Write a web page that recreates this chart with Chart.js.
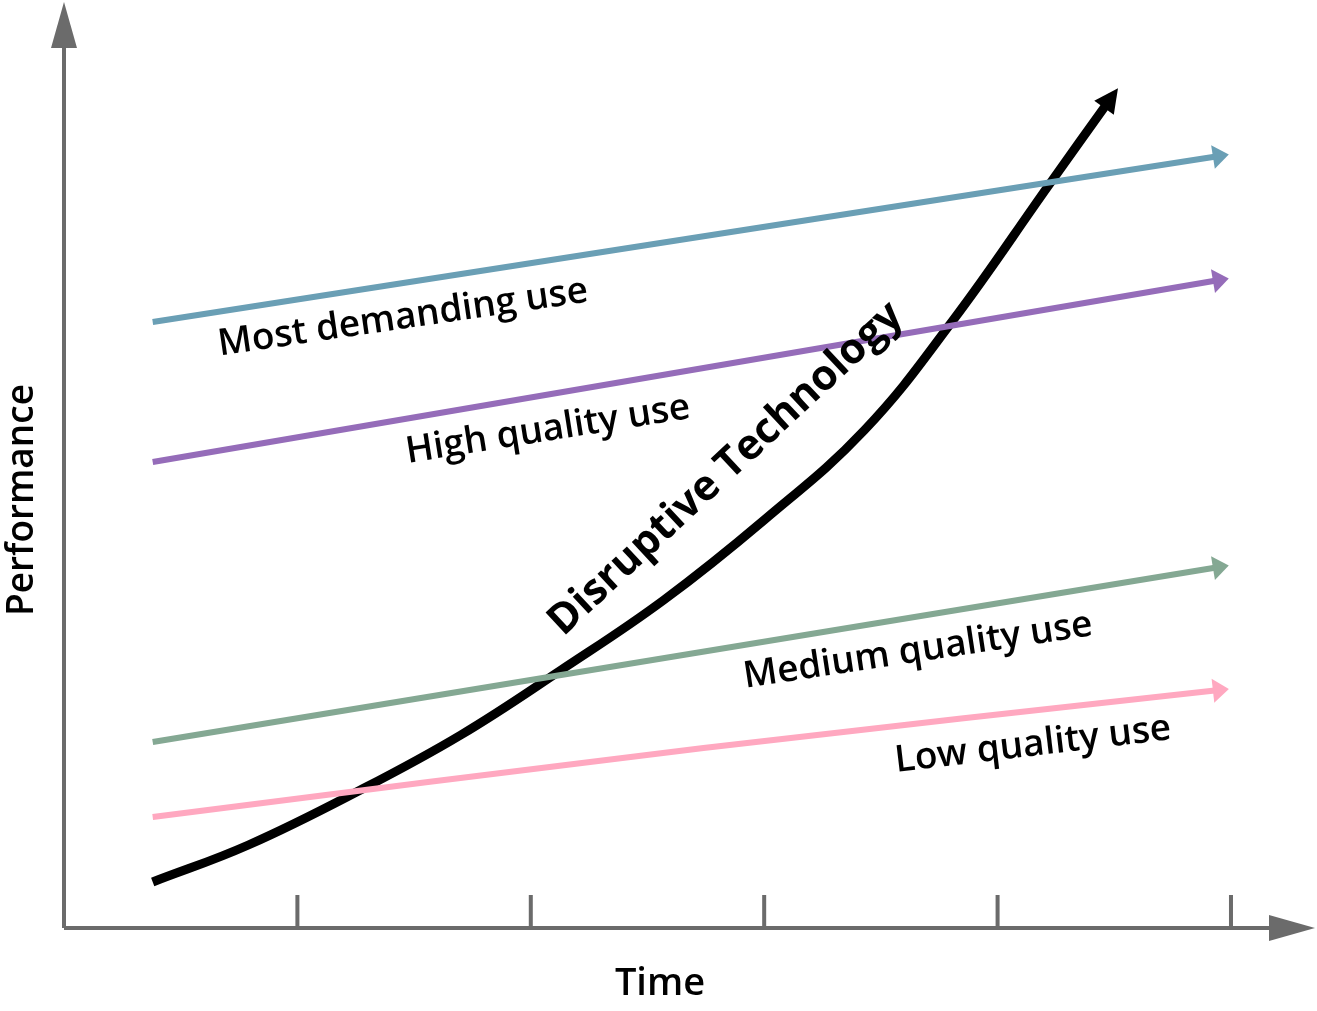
<!DOCTYPE html>
<html>
<head>
<meta charset="utf-8">
<script src="https://cdn.jsdelivr.net/npm/chart.js@4"></script>
<style>
  html, body { margin: 0; padding: 0; background: #fff; }
  #wrap { width: 1317px; height: 1011px; }
</style>
</head>
<body>
<div id="wrap"><canvas id="chart"></canvas></div>
<script>
// conceptual data (x = time units, y = performance units)
var seriesNames = ['Most demanding use', 'High quality use', 'Medium quality use', 'Low quality use', 'Disruptive Technology'];
var mostX = [0.38, 4.95];
var mostY = [6.06, 7.72];
var highX = [0.38, 4.95];
var highY = [4.66, 6.48];
var mediumX = [0.38, 4.95];
var mediumY = [1.86, 3.61];
var lowX = [0.38, 2.74, 4.95];
var lowY = [1.11, 1.80, 2.38];
var disruptX = [0.38, 0.79, 1.27, 1.70, 2.13, 2.57, 3.0, 3.43, 3.81, 4.22, 4.48];
var disruptY = [0.46, 0.83, 1.38, 1.93, 2.58, 3.28, 4.08, 4.98, 6.08, 7.43, 8.28];
var timeTicks = [1, 2, 3, 4, 5];

var FONT = '"Open Sans", "Noto Sans", sans-serif';

function pts(xs, ys) {
  return xs.map(function (x, i) { return { x: x, y: ys[i] }; });
}

var colors = ['#6a9fb5', '#956cb9', '#84a893', '#ffa8c0', '#000000'];

var decorations = {
  id: 'decorations',
  afterDatasetsDraw: function (chart) {
    var ctx = chart.ctx;
    var a = chart.chartArea;
    var xs = chart.scales.x, ys = chart.scales.y;
    var ox = xs.getPixelForValue(0), oy = ys.getPixelForValue(0);

    // arrowheads at the end of every series
    chart.data.datasets.forEach(function (ds, i) {
      var d = ds.data, n = d.length;
      var p1 = { x: xs.getPixelForValue(d[n - 2].x), y: ys.getPixelForValue(d[n - 2].y) };
      var p2 = { x: xs.getPixelForValue(d[n - 1].x), y: ys.getPixelForValue(d[n - 1].y) };
      var ang = Math.atan2(p2.y - p1.y, p2.x - p1.x);
      var big = i === 4;
      var len = big ? 24 : 16, wid = 12;
      ctx.save();
      ctx.translate(p2.x, p2.y);
      ctx.rotate(ang);
      ctx.fillStyle = ds.borderColor;
      ctx.beginPath();
      ctx.moveTo(len * 0.6, 0);
      ctx.lineTo(-len * 0.4, -wid);
      ctx.lineTo(-len * 0.4, wid);
      ctx.closePath();
      ctx.fill();
      ctx.restore();
    });

    // axes
    ctx.save();
    ctx.strokeStyle = '#6b6b6b';
    ctx.fillStyle = '#6b6b6b';
    ctx.lineWidth = 4;
    ctx.beginPath();
    ctx.moveTo(ox, oy);
    ctx.lineTo(ox, a.top + 30);
    ctx.moveTo(ox, oy);
    ctx.lineTo(a.right - 30, oy);
    timeTicks.forEach(function (t) {
      var px = xs.getPixelForValue(t);
      ctx.moveTo(px, oy);
      ctx.lineTo(px, oy - 33);
    });
    ctx.stroke();
    ctx.beginPath();
    ctx.moveTo(ox, a.top - 8);
    ctx.lineTo(ox - 13, a.top + 38);
    ctx.lineTo(ox + 13, a.top + 38);
    ctx.closePath();
    ctx.fill();
    ctx.beginPath();
    ctx.moveTo(a.right, oy);
    ctx.lineTo(a.right - 46, oy - 13);
    ctx.lineTo(a.right - 46, oy + 13);
    ctx.closePath();
    ctx.fill();
    ctx.restore();

    // text
    function label(text, x, y, deg, font, color) {
      ctx.save();
      ctx.translate(x, y);
      ctx.rotate(deg * Math.PI / 180);
      ctx.font = font;
      ctx.fillStyle = color;
      ctx.textAlign = 'center';
      ctx.textBaseline = 'middle';
      ctx.fillText(text, 0, 0);
      ctx.restore();
    }
    var f = '600 37px ' + FONT;
    label('Time', 660, 984, 0, '600 38px ' + FONT, '#000');
    label('Performance', 22, 500, -90, '600 37px ' + FONT, '#000');
    label(seriesNames[0], 403, 318, -8.3, f, '#000');
    label(seriesNames[1], 548, 430, -9.0, f, '#000');
    label(seriesNames[2], 918, 651, -8.6, f, '#000');
    label(seriesNames[3], 1033, 745, -6.8, f, '#000');
    label(seriesNames[4], 726, 469, -43, 'bold 42px ' + FONT, '#000');
  }
};

function line(xs, ys, i, width, tension) {
  return {
    label: seriesNames[i],
    data: pts(xs, ys),
    borderColor: colors[i],
    backgroundColor: colors[i],
    borderWidth: width,
    pointRadius: 0,
    tension: tension,
    borderCapStyle: 'butt'
  };
}

new Chart(document.getElementById('chart'), {
  type: 'line',
  data: {
    datasets: [
      line(mostX, mostY, 0, 6, 0),
      line(highX, highY, 1, 6, 0),
      line(mediumX, mediumY, 2, 6, 0),
      line(lowX, lowY, 3, 6, 0.4),
      line(disruptX, disruptY, 4, 9, 0.4)
    ]
  },
  options: {
    responsive: true,
    maintainAspectRatio: false,
    animation: false,
    layout: { padding: { left: 64, right: 2, top: 10, bottom: 83 } },
    plugins: { legend: { display: false }, tooltip: { enabled: false } },
    scales: {
      x: { type: 'linear', min: 0, max: 5.36, display: false },
      y: { type: 'linear', min: 0, max: 9.18, display: false }
    }
  },
  plugins: [decorations]
});
</script>
</body>
</html>
